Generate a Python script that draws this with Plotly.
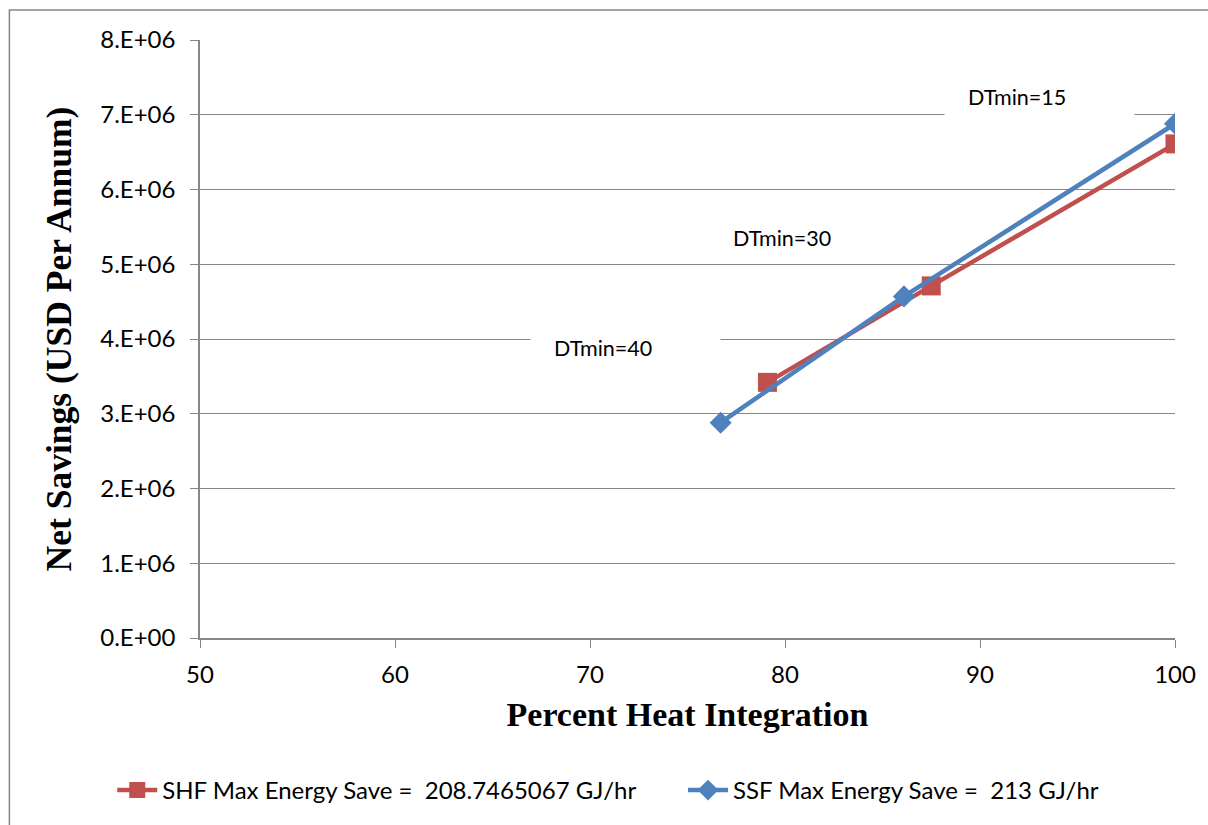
import plotly.graph_objects as go

shf_x = [79.1, 87.5, 100.0]
shf_y = [3.42e6, 4.71e6, 6.61e6]
ssf_x = [76.7, 86.1, 100.0]
ssf_y = [2.88e6, 4.57e6, 6.88e6]

shf_name = "SHF Max Energy Save =  208.7465067 GJ/hr"
ssf_name = "SSF Max Energy Save =  213 GJ/hr"

ann_text = ["DTmin=15", "DTmin=30", "DTmin=40"]
ann_x = [93.05, 81.0, 71.8]
ann_y = [7.24e6, 5.35e6, 3.88e6]

y_ticks = [0, 1e6, 2e6, 3e6, 4e6, 5e6, 6e6, 7e6, 8e6]
y_labels = ["0.E+00", "1.E+06", "2.E+06", "3.E+06", "4.E+06", "5.E+06", "6.E+06", "7.E+06", "8.E+06"]

fig = go.Figure()
fig.add_trace(go.Scatter(x=shf_x, y=shf_y, name=shf_name, mode="lines+markers",
                         line=dict(color="#C0504D", width=4.5), legend="legend",
                         marker=dict(symbol="square", size=19, color="#C0504D")))
fig.add_trace(go.Scatter(x=ssf_x, y=ssf_y, name=ssf_name, mode="lines+markers",
                         line=dict(color="#4F81BD", width=4.5), legend="legend2",
                         marker=dict(symbol="diamond", size=17, color="#4F81BD")))

for t, x, y in zip(ann_text, ann_x, ann_y):
    fig.add_annotation(x=x, y=y, text="&nbsp;" * 4 + t, showarrow=False, bgcolor="white",
                       width=187, height=38, align="left",
                       font=dict(family="Lato", size=21.5, color="black"))

fig.add_shape(type="rect", xref="paper", yref="paper", x0=-0.1955, x1=1.2,
              y0=-0.5, y1=1.050, line=dict(color="#868686", width=1.5), layer="below")

legend_common = dict(orientation="h", xanchor="left", y=-0.255, yanchor="middle",
                     font=dict(family="Lato", size=24), itemwidth=40, bgcolor="rgba(0,0,0,0)")

fig.update_layout(
    width=1208, height=825,
    margin=dict(l=200, r=29, t=40, b=186),
    paper_bgcolor="white", plot_bgcolor="white",
    font=dict(family="Lato", size=20, color="black"),
    showlegend=True,
    legend=dict(x=-0.090, **legend_common),
    legend2=dict(x=0.4954, **legend_common),
    xaxis=dict(range=[50, 100], tickvals=[50, 60, 70, 80, 90, 100], showgrid=False,
               showline=True, linecolor="#868686", linewidth=1.5, ticks="outside",
               ticklen=8, tickcolor="#868686", zeroline=False, ticklabelstandoff=6,
               tickfont=dict(family="Lato", size=24),
               title=dict(text="<b>Percent Heat Integration</b>",
                          font=dict(family="Liberation Serif", size=34), standoff=16)),
    yaxis=dict(range=[0, 8e6], tickvals=y_ticks, ticktext=y_labels, showgrid=True,
               gridcolor="#868686", gridwidth=1.2, showline=True, linecolor="#868686",
               linewidth=1.5, ticks="outside", ticklen=8, tickcolor="#868686",
               zeroline=False, tickfont=dict(family="Lato", size=24), ticklabelstandoff=10,
               title=dict(text="<b>Net Savings (USD Per Annum)</b>",
                          font=dict(family="Liberation Serif", size=35.5), standoff=18)),
)

fig.write_html("out.html")
